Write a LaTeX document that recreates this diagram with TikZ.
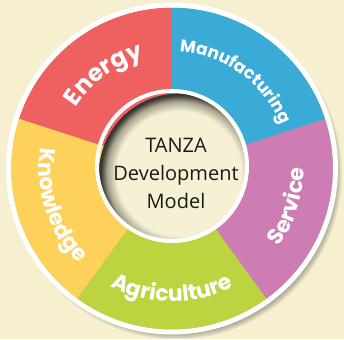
\documentclass[tikz,border=0pt]{standalone}
\usepackage{fontspec}
\usepackage{tikz}
\usetikzlibrary{decorations.text}
\newfontfamily\ringfont{Poppins}
\newfontfamily\centerfont{Open Sans}
\definecolor{bgcream}{HTML}{F6F0D1}
\definecolor{midcream}{HTML}{F6F1D5}
\definecolor{energycol}{HTML}{EF6160}
\definecolor{manucol}{HTML}{3AAAD7}
\definecolor{servicecol}{HTML}{CD7DB3}
\definecolor{agricol}{HTML}{BCD43F}
\definecolor{knowcol}{HTML}{FDD15A}
\definecolor{rimgray}{HTML}{A8A48E}
\definecolor{rimdark}{HTML}{363531}
\pgfdeclareradialshading{rimshade}{\pgfpoint{0bp}{0bp}}{color(0bp)=(midcream); color(19.5bp)=(midcream); color(22.5bp)=(rimgray); color(24.5bp)=(rimdark); color(50bp)=(rimdark)}
\tikzset{
  toplabel/.style={decorate, decoration={text along path, text align=center, text color=white,
      text={|\ringfont\bfseries\fontsize{#1}{#1}\selectfont|\ringword}}},
  botlabel/.style={toplabel=#1}
}
\newcommand{\ringword}{}
\begin{document}
\begin{tikzpicture}[x=1pt, y=1pt]
    % Background
    \fill[bgcream] (-172,-170.5) rectangle (172,168.5);
    \useasboundingbox (-172,-170.5) rectangle (172,168.5);
    % Shadow of the wheel
    \foreach \i in {1,...,9}
        \fill[black, opacity=0.05] (4,-5) circle (157+\i);
    % Sectors
    \foreach \a/\col in {90/energycol, 162/knowcol, 234/agricol, 306/servicecol, 18/manucol}
        \fill[\col] (\a:161) arc[start angle=\a, end angle=\a+72, radius=161]
            -- (\a+72:70) arc[start angle=\a+72, end angle=\a, radius=70] -- cycle;
    % Outer rim
    \draw[white, line width=5] (0,0) circle (163.5);
    % Middle disc
    \begin{scope}
        \clip (0,2.5) circle (74);
        \shade[shading=rimshade] (7,-5) circle (80);
    \end{scope}
    \draw[white, line width=4] (0,2.5) circle (75);
    % Sector labels
    \renewcommand{\ringword}{Energy}
    \path[toplabel=24] (162:114) arc[start angle=162, end angle=90, radius=114];
    \renewcommand{\ringword}{Manufacturing}
    \path[toplabel=17] (90:117) arc[start angle=90, end angle=18, radius=117];
    \renewcommand{\ringword}{Service}
    \path[botlabel=22] (306:132) arc[start angle=306, end angle=378, radius=132];
    \renewcommand{\ringword}{Agriculture}
    \path[botlabel=22] (234:133) arc[start angle=234, end angle=306, radius=133];
    \renewcommand{\ringword}{Knowledge}
    \path[botlabel=22] (162:133) arc[start angle=162, end angle=234, radius=133];
    % Title
    \node[align=center, text=black!90, font=\centerfont\fontsize{20}{28}\selectfont]
        (model) at (4,-5) {TANZA\\Development\\Model};
\end{tikzpicture}
\end{document}
